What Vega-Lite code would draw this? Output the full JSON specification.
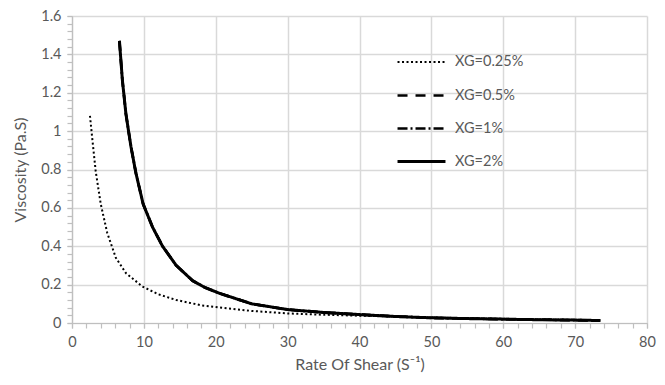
{
  "$schema": "https://vega.github.io/schema/vega-lite/v6.json",
  "width": 575,
  "height": 307,
  "autosize": "none",
  "padding": {"left": 72, "top": 16, "right": 18, "bottom": 62},
  "background": "white",
  "config": {
    "view": {"stroke": null},
    "font": "Lato",
    "axis": {"labelColor": "#595959", "titleColor": "#595959", "labelFont": "Lato", "titleFont": "Lato", "labelFontSize": 14.5, "titleFontSize": 16, "titleFontWeight": "normal", "gridColor": "#d9d9d9", "gridWidth": 1.5, "domainColor": "#bfbfbf", "domainWidth": 1.2, "tickColor": "#bfbfbf", "tickWidth": 1.2, "tickSize": 5, "labelFlush": false},
    "legend": {"labelFont": "Lato", "labelFontSize": 14.5, "labelColor": "#595959", "title": null, "orient": "none", "legendX": 324, "legendY": 21, "symbolType": "stroke", "symbolSize": 2300, "symbolStrokeColor": "black", "rowPadding": 1, "labelOffset": 8}
  },
  "data": {"values": [
    {"s": "XG=0.25%", "x": 2.5, "y": 1.08},
    {"s": "XG=0.25%", "x": 2.85, "y": 0.95},
    {"s": "XG=0.25%", "x": 3.3, "y": 0.79},
    {"s": "XG=0.25%", "x": 4.0, "y": 0.62},
    {"s": "XG=0.25%", "x": 4.9, "y": 0.47},
    {"s": "XG=0.25%", "x": 6.1, "y": 0.34},
    {"s": "XG=0.25%", "x": 7.5, "y": 0.26},
    {"s": "XG=0.25%", "x": 9.8, "y": 0.19},
    {"s": "XG=0.25%", "x": 12, "y": 0.15},
    {"s": "XG=0.25%", "x": 14.5, "y": 0.12},
    {"s": "XG=0.25%", "x": 18, "y": 0.092},
    {"s": "XG=0.25%", "x": 21.7, "y": 0.076},
    {"s": "XG=0.25%", "x": 25, "y": 0.063},
    {"s": "XG=0.25%", "x": 30, "y": 0.05},
    {"s": "XG=0.25%", "x": 35, "y": 0.043},
    {"s": "XG=0.25%", "x": 40, "y": 0.038},
    {"s": "XG=0.25%", "x": 45, "y": 0.033},
    {"s": "XG=0.25%", "x": 50, "y": 0.029},
    {"s": "XG=0.25%", "x": 55, "y": 0.025},
    {"s": "XG=0.25%", "x": 60, "y": 0.022},
    {"s": "XG=0.25%", "x": 65, "y": 0.019},
    {"s": "XG=0.25%", "x": 70, "y": 0.017},
    {"s": "XG=0.25%", "x": 73.5, "y": 0.015},
    {"s": "XG=0.5%", "x": 6.6, "y": 1.47},
    {"s": "XG=0.5%", "x": 7.0, "y": 1.27},
    {"s": "XG=0.5%", "x": 7.5, "y": 1.09},
    {"s": "XG=0.5%", "x": 8.2, "y": 0.92},
    {"s": "XG=0.5%", "x": 8.9, "y": 0.78},
    {"s": "XG=0.5%", "x": 9.9, "y": 0.62},
    {"s": "XG=0.5%", "x": 11.2, "y": 0.5},
    {"s": "XG=0.5%", "x": 12.6, "y": 0.4},
    {"s": "XG=0.5%", "x": 14.5, "y": 0.3},
    {"s": "XG=0.5%", "x": 16.8, "y": 0.22},
    {"s": "XG=0.5%", "x": 18.5, "y": 0.185},
    {"s": "XG=0.5%", "x": 20.5, "y": 0.155},
    {"s": "XG=0.5%", "x": 25, "y": 0.1},
    {"s": "XG=0.5%", "x": 30, "y": 0.07},
    {"s": "XG=0.5%", "x": 35, "y": 0.055},
    {"s": "XG=0.5%", "x": 40, "y": 0.044},
    {"s": "XG=0.5%", "x": 45, "y": 0.034},
    {"s": "XG=0.5%", "x": 50, "y": 0.027},
    {"s": "XG=0.5%", "x": 55, "y": 0.023},
    {"s": "XG=0.5%", "x": 60, "y": 0.02},
    {"s": "XG=0.5%", "x": 65, "y": 0.017},
    {"s": "XG=0.5%", "x": 70, "y": 0.015},
    {"s": "XG=0.5%", "x": 73.5, "y": 0.013},
    {"s": "XG=1%", "x": 6.6, "y": 1.47},
    {"s": "XG=1%", "x": 7.0, "y": 1.27},
    {"s": "XG=1%", "x": 7.5, "y": 1.09},
    {"s": "XG=1%", "x": 8.2, "y": 0.92},
    {"s": "XG=1%", "x": 8.9, "y": 0.78},
    {"s": "XG=1%", "x": 9.9, "y": 0.62},
    {"s": "XG=1%", "x": 11.2, "y": 0.5},
    {"s": "XG=1%", "x": 12.6, "y": 0.4},
    {"s": "XG=1%", "x": 14.5, "y": 0.3},
    {"s": "XG=1%", "x": 16.8, "y": 0.22},
    {"s": "XG=1%", "x": 18.5, "y": 0.185},
    {"s": "XG=1%", "x": 20.5, "y": 0.155},
    {"s": "XG=1%", "x": 25, "y": 0.1},
    {"s": "XG=1%", "x": 30, "y": 0.07},
    {"s": "XG=1%", "x": 35, "y": 0.055},
    {"s": "XG=1%", "x": 40, "y": 0.044},
    {"s": "XG=1%", "x": 45, "y": 0.034},
    {"s": "XG=1%", "x": 50, "y": 0.027},
    {"s": "XG=1%", "x": 55, "y": 0.023},
    {"s": "XG=1%", "x": 60, "y": 0.02},
    {"s": "XG=1%", "x": 65, "y": 0.017},
    {"s": "XG=1%", "x": 70, "y": 0.015},
    {"s": "XG=1%", "x": 73.5, "y": 0.013},
    {"s": "XG=2%", "x": 6.6, "y": 1.47},
    {"s": "XG=2%", "x": 7.0, "y": 1.27},
    {"s": "XG=2%", "x": 7.5, "y": 1.09},
    {"s": "XG=2%", "x": 8.2, "y": 0.92},
    {"s": "XG=2%", "x": 8.9, "y": 0.78},
    {"s": "XG=2%", "x": 9.9, "y": 0.62},
    {"s": "XG=2%", "x": 11.2, "y": 0.5},
    {"s": "XG=2%", "x": 12.6, "y": 0.4},
    {"s": "XG=2%", "x": 14.5, "y": 0.3},
    {"s": "XG=2%", "x": 16.8, "y": 0.22},
    {"s": "XG=2%", "x": 18.5, "y": 0.185},
    {"s": "XG=2%", "x": 20.5, "y": 0.155},
    {"s": "XG=2%", "x": 25, "y": 0.1},
    {"s": "XG=2%", "x": 30, "y": 0.07},
    {"s": "XG=2%", "x": 35, "y": 0.055},
    {"s": "XG=2%", "x": 40, "y": 0.044},
    {"s": "XG=2%", "x": 45, "y": 0.034},
    {"s": "XG=2%", "x": 50, "y": 0.027},
    {"s": "XG=2%", "x": 55, "y": 0.023},
    {"s": "XG=2%", "x": 60, "y": 0.02},
    {"s": "XG=2%", "x": 65, "y": 0.017},
    {"s": "XG=2%", "x": 70, "y": 0.015},
    {"s": "XG=2%", "x": 73.5, "y": 0.013}
  ]},
  "layer": [
    {
      "mark": {"type": "line", "opacity": 0},
      "encoding": {
        "x": {"field": "x", "type": "quantitative", "scale": {"domain": [0, 80]}, "axis": {"orient": "bottom", "values": [0,2,4,6,8,10,12,14,16,18,20,22,24,26,28,30,32,34,36,38,40,42,44,46,48,50,52,54,56,58,60,62,64,66,68,70,72,74,76,78,80], "labels": false, "grid": false, "domain": false, "tickSize": 5, "title": null}},
        "y": {"field": "y", "type": "quantitative", "scale": {"domain": [0, 1.6]}, "axis": {"orient": "left", "values": [0,0.04,0.08,0.12,0.16,0.2,0.24,0.28,0.32,0.36,0.4,0.44,0.48,0.52,0.56,0.6,0.64,0.68,0.72,0.76,0.8,0.84,0.88,0.92,0.96,1,1.04,1.08,1.12,1.16,1.2,1.24,1.28,1.32,1.36,1.4,1.44,1.48,1.52,1.56,1.6], "labels": false, "grid": false, "domain": false, "tickSize": 5, "title": null}},
        "detail": {"field": "s"}
      }
    },
    {
      "mark": {"type": "line", "color": "black", "clip": true},
      "encoding": {
        "x": {"field": "x", "type": "quantitative", "scale": {"domain": [0, 80]}, "axis": {"orient": "bottom", "grid": true, "values": [0,10,20,30,40,50,60,70,80], "title": "Rate Of Shear (S\u207b\u00b9)", "labelPadding": 7, "titlePadding": 8}},
        "y": {"field": "y", "type": "quantitative", "scale": {"domain": [0, 1.6]}, "axis": {"orient": "left", "grid": true, "values": [0,0.2,0.4,0.6,0.8,1,1.2,1.4,1.6], "format": "~g", "title": "Viscosity (Pa.S)", "labelPadding": 6, "titlePadding": 12}},
        "strokeDash": {"field": "s", "type": "nominal", "scale": {"domain": ["XG=0.25%", "XG=0.5%", "XG=1%", "XG=2%"], "range": [[2, 2.5], [10, 8], [10, 3, 2, 3], [1, 0]]}},
        "strokeWidth": {"field": "s", "type": "nominal", "scale": {"domain": ["XG=0.25%", "XG=0.5%", "XG=1%", "XG=2%"], "range": [2, 3, 3, 1]}}
      }
    }
  ],
  "resolve": {"axis": {"x": "independent", "y": "independent"}}
}
